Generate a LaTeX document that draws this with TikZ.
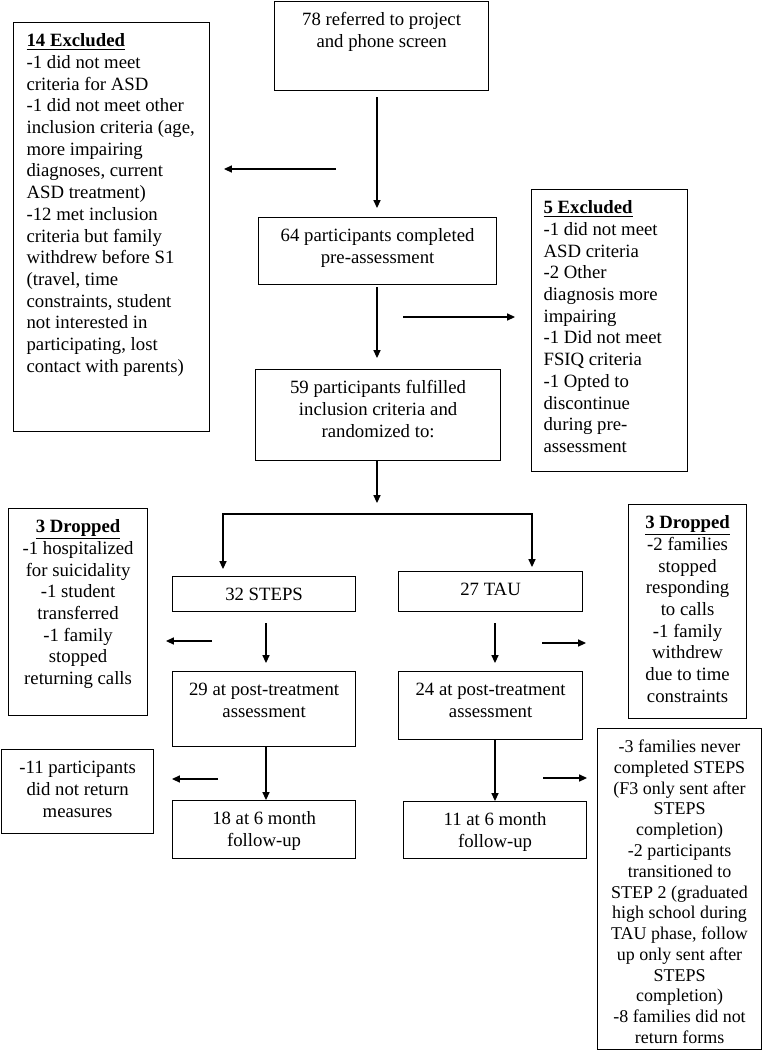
\documentclass[tikz,border=0pt]{standalone}
\usepackage{fontspec}
\setmainfont{Liberation Serif}
\usetikzlibrary{arrows.meta}
\newdimen\pxu
\pxu=0.64pt
\newcommand{\boxtxt}[4]{\parbox[t][#2\pxu][t]{\dimexpr#1\pxu-12\pxu\relax}{#3\relax\rule{0pt}{24\pxu}#4}}
\tikzset
{
    flowbox/.style = {draw=black, line width=0.75pt, inner xsep=3.84pt, inner ysep=0pt, anchor=north west, font=\fontsize{12pt}{13.9pt}\selectfont},
    smallbox/.style = {flowbox, font=\fontsize{11.5pt}{13.3pt}\selectfont},
    flow/.style = {-{Triangle[length=5pt,width=4.5pt]}, line width=0.75pt},
    split/.style = {{Triangle[length=5pt,width=4.5pt]}-{Triangle[length=5pt,width=4.5pt]}, line width=0.75pt}
}

\begin{document}
\begin{tikzpicture}[x=0.64pt, y=-0.64pt]
\useasboundingbox (0,0) rectangle (762,1050);

\node[flowbox] (refer) at (274,1) {\boxtxt{214}{89}{\centering}{78 referred to project\\and phone screen}};
\node[flowbox] (excl1) at (13,22) {\boxtxt{196}{409}{\raggedright\leftskip=7\pxu}{\underline{\textbf{14 Excluded}}\\
-1 did not meet\\
criteria for ASD\\
-1 did not meet other\\
inclusion criteria (age,\\
more impairing\\
diagnoses, current\\
ASD treatment)\\
-12 met inclusion\\
criteria but family\\
withdrew before S1\\
(travel, time\\
constraints, student\\
not interested in\\
participating, lost\\
contact with parents)}};
\node[flowbox] (pre) at (258,217) {\boxtxt{238}{67}{\centering}{64 participants completed\\pre-assessment}};
\node[flowbox] (rand) at (255,369) {\boxtxt{245}{91}{\centering}{59 participants fulfilled\\inclusion criteria and\\randomized to:}};
\node[flowbox] (excl2) at (531,189) {\boxtxt{156}{282}{\raggedright\leftskip=6\pxu}{\underline{\textbf{5 Excluded}}\\
-1 did not meet\\
ASD criteria\\
-2 Other\\
diagnosis more\\
impairing\\
-1 Did not meet\\
FSIQ criteria\\
-1 Opted to\\
discontinue\\
during pre-\\
assessment}};

\node[flowbox] (steps) at (172,576) {\boxtxt{183}{35}{\centering}{32 STEPS}};
\node[flowbox] (tau) at (398,571) {\boxtxt{184}{40}{\centering}{27 TAU}};
\node[flowbox] (drop1) at (8,508) {\boxtxt{139}{207}{\centering}{\underline{\textbf{3 Dropped}}\\
-1 hospitalized\\
for suicidality\\
-1 student\\
transferred\\
-1 family\\
stopped\\
returning calls}};
\node[flowbox] (drop2) at (628,504) {\boxtxt{118}{214}{\centering}{\underline{\textbf{3 Dropped}}\\
-2 families\\
stopped\\
responding\\
to calls\\
-1 family\\
withdrew\\
due to time\\
constraints}};

\node[flowbox] (poststeps) at (172,671) {\boxtxt{183}{75}{\centering}{29 at post-treatment\\assessment}};
\node[flowbox] (posttau) at (398,671) {\boxtxt{184}{68}{\centering}{24 at post-treatment\\assessment}};
\node[flowbox] (fusteps) at (172,800) {\boxtxt{183}{58}{\centering}{18 at 6 month\\follow-up}};
\node[flowbox] (futau) at (403,801) {\boxtxt{183}{57}{\centering}{11 at 6 month\\follow-up}};
\node[flowbox] (lost1) at (1,749) {\boxtxt{152}{84}{\centering}{-11 participants\\did not return\\measures}};
\node[smallbox] (lost2) at (597,728) {\boxtxt{164}{321}{\centering}{-3 families never\\
completed STEPS\\
(F3 only sent after\\
STEPS\\
completion)\\
-2 participants\\
transitioned to\\
STEP 2 (graduated\\
high school during\\
TAU phase, follow\\
up only sent after\\
STEPS\\
completion)\\
-8 families did not\\
return forms}};

\coordinate (refer-out) at (377,97);
\coordinate (pre-in) at (377,208);
\coordinate (excl1-from) at (336,169);
\coordinate (excl1-to) at (224,169);
\coordinate (pre-out) at (377,287);
\coordinate (rand-in) at (377,358);
\coordinate (excl2-from) at (403,317);
\coordinate (excl2-to) at (515,317);
\coordinate (rand-out) at (377,503);
\coordinate (steps-in) at (223,569);
\coordinate (split-l) at (223,514);
\coordinate (split-r) at (532,514);
\coordinate (tau-in) at (532,567);
\coordinate (steps-out) at (266,623);
\coordinate (poststeps-in) at (266,663);
\coordinate (drop1-from) at (212,641);
\coordinate (drop1-to) at (166,641);
\coordinate (tau-out) at (495,623);
\coordinate (posttau-in) at (495,663);
\coordinate (drop2-from) at (542,643);
\coordinate (drop2-to) at (586,643);
\coordinate (lost1-from) at (218,779);
\coordinate (lost1-to) at (172,779);
\coordinate (lost2-from) at (543,778);
\coordinate (lost2-to) at (587,778);

\draw[flow] (refer-out) -- (pre-in);
\draw[flow] (excl1-from) -- (excl1-to);
\draw[flow] (pre-out) -- (rand-in);
\draw[flow] (excl2-from) -- (excl2-to);
\draw[flow] (rand.south -| rand-out) -- (rand-out);
\draw[split] (steps-in) -- (split-l) -- (split-r) -- (tau-in);
\draw[flow] (steps-out) -- (poststeps-in);
\draw[flow] (drop1-from) -- (drop1-to);
\draw[flow] (tau-out) -- (posttau-in);
\draw[flow] (drop2-from) -- (drop2-to);
\draw[flow] (poststeps.south -| steps-out) -- (fusteps.north -| steps-out);
\draw[flow] (lost1-from) -- (lost1-to);
\draw[flow] (posttau.south -| tau-out) -- (futau.north -| tau-out);
\draw[flow] (lost2-from) -- (lost2-to);
\end{tikzpicture}
\end{document}
